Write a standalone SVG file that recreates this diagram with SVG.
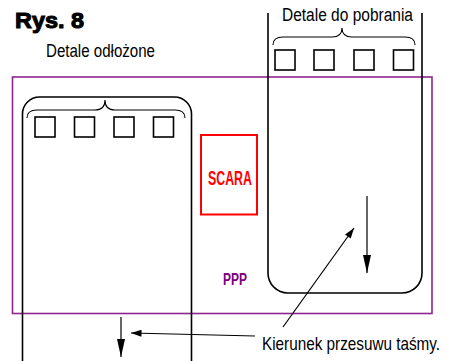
<svg xmlns="http://www.w3.org/2000/svg" width="454" height="361" viewBox="0 0 454 361">
<defs>
<marker id="ah" viewBox="0 0 12 8" refX="12" refY="4" markerWidth="12" markerHeight="7" markerUnits="userSpaceOnUse" orient="auto"><path d="M0,0 L12,4 L0,8 z" fill="#000"/></marker>
<marker id="ahl" viewBox="0 0 18 8" refX="18" refY="4" markerWidth="18" markerHeight="8" markerUnits="userSpaceOnUse" orient="auto"><path d="M0,0 L18,4 L0,8 z" fill="#000"/></marker>
<style>
.ln{fill:none;stroke:#000;stroke-width:1.6}
.sq{fill:#fff;stroke:#000;stroke-width:1.6}
.br{fill:none;stroke:#000;stroke-width:1.1}
.lbl{font-family:"Liberation Sans",Arial,sans-serif;font-size:18px;fill:#000}
.con{fill:none;stroke:#000;stroke-width:1.2}
</style>
</defs>
<rect width="454" height="361" fill="#fff"/>
<text x="15" y="28" font-family="Liberation Sans,Arial,sans-serif" font-weight="bold" font-size="21.5" stroke="#000" stroke-width="1" textLength="69" lengthAdjust="spacingAndGlyphs">Rys. 8</text>
<g id="ppp">
<rect x="12.5" y="77" width="419.5" height="236.5" fill="none" stroke="#8e248e" stroke-width="1.6"/>
<text x="223" y="285" font-family="Liberation Sans,Arial,sans-serif" font-weight="bold" font-size="16.5" fill="#800080" textLength="24" lengthAdjust="spacingAndGlyphs">PPP</text>
</g>
<g id="left-conveyor">
<path class="ln" d="M22.5,361 L22.5,114 A17,17 0 0 1 39.5,97 L174.5,97 A17,17 0 0 1 191.5,114 L191.5,361"/>
<path class="br" d="M27,118 Q27,110 37,110 L95,110 Q105,110 105,100 Q105,110 115,110 L175,110 Q185,110 185,118"/>
<rect class="sq" x="35" y="117" width="20" height="20"/>
<rect class="sq" x="74.5" y="117" width="20" height="20"/>
<rect class="sq" x="114" y="117" width="20" height="20"/>
<rect class="sq" x="153.5" y="117" width="20" height="20"/>
<text class="lbl" x="46" y="57" textLength="109" lengthAdjust="spacingAndGlyphs">Detale odłożone</text>
</g>
<g id="right-conveyor">
<path class="ln" d="M268,13 L268,273 A20,20 0 0 0 288,293 L402,293 A20,20 0 0 0 422,273 L422,13"/>
<path class="br" d="M273,45 Q273,37 283,37 L332,37 Q342,37 342,28 Q342,37 352,37 L405,37 Q415,37 415,45"/>
<rect class="sq" x="275" y="50" width="20" height="20"/>
<rect class="sq" x="314" y="50" width="20" height="20"/>
<rect class="sq" x="354" y="50" width="20" height="20"/>
<rect class="sq" x="393.5" y="50" width="20" height="20"/>
<text class="lbl" x="282" y="21" textLength="131" lengthAdjust="spacingAndGlyphs">Detale do pobrania</text>
</g>
<g id="scara">
<rect x="201" y="135" width="56" height="79.5" fill="none" stroke="#ff0000" stroke-width="2"/>
<text x="208" y="185" font-family="Liberation Sans,Arial,sans-serif" font-weight="bold" font-size="20" fill="#ff0000" textLength="44" lengthAdjust="spacingAndGlyphs">SCARA</text>
</g>
<g id="label">
<text class="lbl" transform="translate(262,350) scale(0.85,1)" x="0" y="0">Kierunek przesuwu taśmy.</text>
</g>
<g id="connectors">
<line class="con" x1="367" y1="196" x2="367" y2="273" marker-end="url(#ahl)"/>
<line class="con" x1="121" y1="317" x2="121" y2="357" marker-end="url(#ahl)"/>
<line class="con" x1="283" y1="327" x2="354" y2="228" marker-end="url(#ah)"/>
<line class="con" x1="255" y1="336" x2="131" y2="333" marker-end="url(#ah)"/>
</g>
</svg>
